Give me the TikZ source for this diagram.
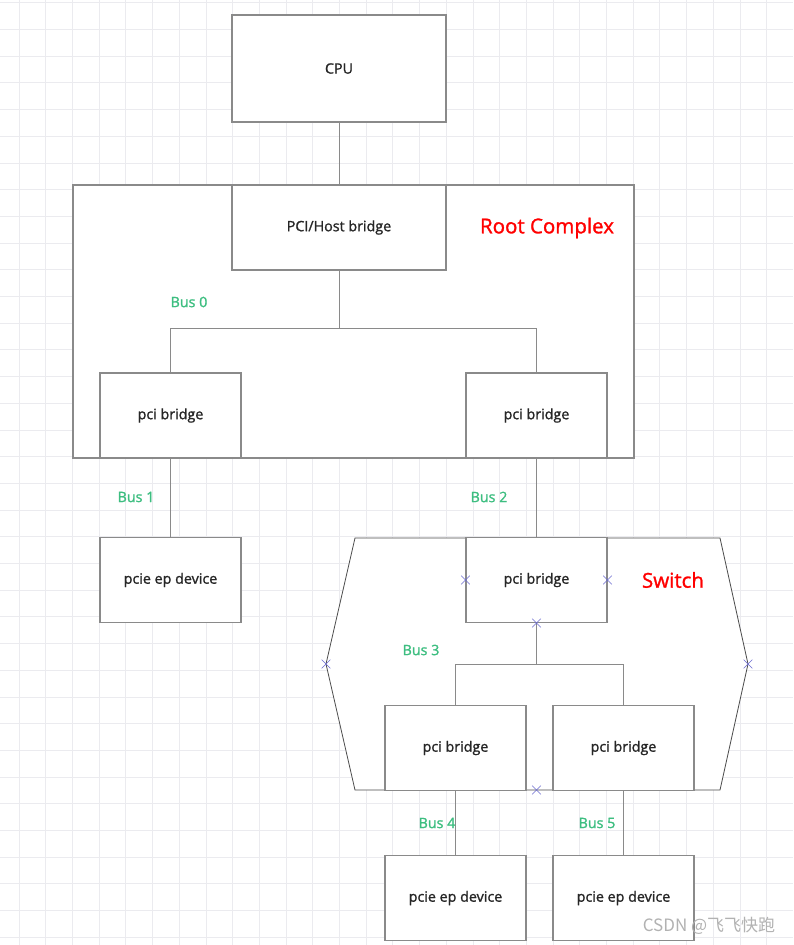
\documentclass[tikz,border=0pt]{standalone}
\usepackage{fontspec}
\setmainfont{Open Sans}
\newfontfamily\labelfont{Open Sans}[FakeBold=1.3]
\newfontfamily\cjkfont{Noto Sans CJK SC}
\usepackage{tikz}
\usetikzlibrary{shapes.misc}

\definecolor{gridline}{HTML}{EBEBEF}
\definecolor{boxline}{HTML}{8A8A8A}
\definecolor{busgreen}{HTML}{3DBE80}
\definecolor{crossblue}{HTML}{6B6BD0}

\tikzset{
  gridrule/.style={draw=gridline, line width=0.8pt},
  box/.style={draw=boxline, line width=1.1pt, fill=white, inner sep=0pt,
    text=black!85, font=\labelfont\fontsize{14.3}{16}\selectfont},
  bridgebox/.style={box, minimum width=141pt, minimum height=85pt},
  wire/.style={draw=boxline, line width=1pt},
  buslabel/.style={text=busgreen, font=\labelfont\fontsize{14.3}{16}\selectfont},
  title/.style={text=red, font=\labelfont\fontsize{20.5}{24}\selectfont},
  xmark/.style={cross out, draw=crossblue, line width=0.6pt, minimum size=8pt, inner sep=0pt},
}

\begin{document}
\begin{tikzpicture}[x=1pt,y=-1pt]
\useasboundingbox (0,0) rectangle (793,945);

    % background grid
    \fill[white] (0,0) rectangle (793,945);
    \foreach \i in {0,...,28} \draw[gridrule] ({19+26.7*\i},0) -- ({19+26.7*\i},945);
    \foreach \j in {0,...,35} \draw[gridrule] (0,{2.7+26.7*\j}) -- (793,{2.7+26.7*\j});

    % cpu and root complex
    \node[box, minimum width=214pt, minimum height=107pt] (cpu) at (339,68.5) {CPU};
    \node[box, minimum width=561pt, minimum height=273pt] (rc) at (353.5,321.5) {};
    \node[box, minimum width=214pt, minimum height=85pt] (host) at (339,227.5) {PCI/Host bridge};
    \node[title] (rctitle) at (547,228) {Root Complex};
    \node[bridgebox] (rcl) at (170.5,415.5) {pci bridge};
    \node[bridgebox] (rcr) at (536.5,415.5) {pci bridge};
    \node[bridgebox] (ep1) at (170.5,580) {pcie ep device};

    % switch
    \coordinate (swW) at (326,664);
    \coordinate (swE) at (748,664);
    \draw[draw=black!70, line width=0.8pt, fill=white]
        (355,538) -- (720,538) -- (swE) -- (720,790) -- (355,790) -- (swW) -- cycle;
    \node[bridgebox] (swup) at (536.5,580) {pci bridge};
    \node[title] (swtitle) at (673,580) {Switch};
    \node[bridgebox] (swl) at (455.5,748) {pci bridge};
    \node[bridgebox] (swr) at (623.5,748) {pci bridge};
    \node[bridgebox] (ep4) at (455.5,898) {pcie ep device};
    \node[bridgebox] (ep5) at (623.5,898) {pcie ep device};

    % buses
    \coordinate (bus0) at (339,328);
    \coordinate (bus3) at (536.5,664);
    \draw[wire] (cpu) -- (host);
    \draw[wire] (host) -- (bus0) -| (rcl);
    \draw[wire] (bus0) -| (rcr);
    \draw[wire] (rcl) -- (ep1);
    \draw[wire] (rcr) -- (swup);
    \draw[wire] (swup) -- (bus3) -| (swl);
    \draw[wire] (bus3) -| (swr);
    \draw[wire] (swl) -- (ep4);
    \draw[wire] (swr) -- (ep5);

    \node[buslabel] (lbus0) at (189,302) {Bus 0};
    \node[buslabel] (lbus1) at (136,497) {Bus 1};
    \node[buslabel] (lbus2) at (489,497) {Bus 2};
    \node[buslabel] (lbus3) at (421,650) {Bus 3};
    \node[buslabel] (lbus4) at (437,823) {Bus 4};
    \node[buslabel] (lbus5) at (597,823) {Bus 5};

    % connection marks
    \node[xmark] (m1) at (swup.west) {};
    \node[xmark] (m2) at (swup.east) {};
    \node[xmark] (m3) at (swup.south) {};
    \node[xmark] (m4) at (swW) {};
    \node[xmark] (m5) at (swE) {};
    \node[xmark] (m6) at (536.5,790) {};

    \node[text=black!30, font=\cjkfont\fontsize{17}{19}\selectfont] (mark) at (709,926) {CSDN @飞飞快跑};

\end{tikzpicture}
\end{document}
